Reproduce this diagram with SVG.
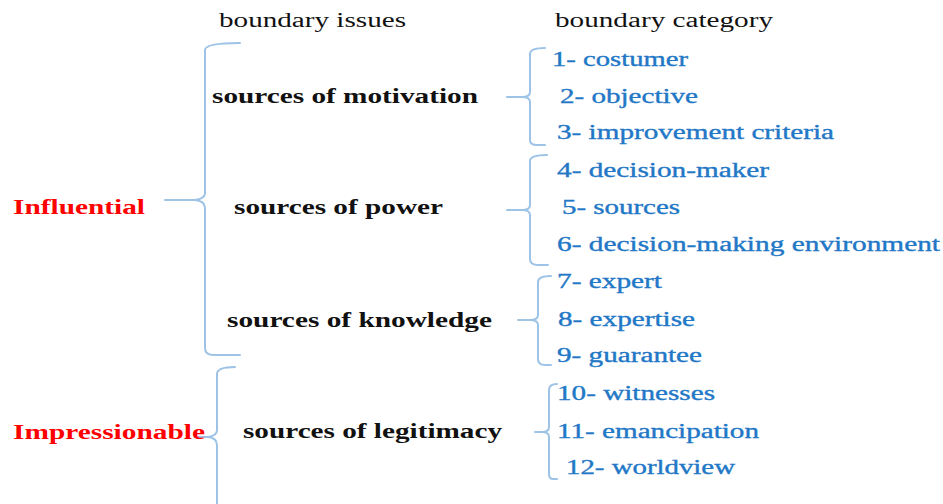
<svg xmlns="http://www.w3.org/2000/svg" width="943" height="504" viewBox="0 0 943 504">
<style>
.hdr{fill:#111}
.top{fill:#ff0000;font-weight:bold}
.issue{fill:#111;font-weight:bold}
.cat{fill:#2277c6;stroke:#2277c6;stroke-width:0.35}
.br{fill:none;stroke:#9dc3e6;stroke-width:2;stroke-linecap:round;stroke-linejoin:round}
</style>
<rect width="943" height="504" fill="#fff"/>
<g id="connectors">
<path class="br" d="M240,43 Q205,43 205,50 L205,193 Q205,199 195,200 L165,200 M195,200 Q205,201 205,208 L205,348 Q205,355 214,355 L240,355"/>
<path class="br" d="M235,367 Q217,367 217,374 L217,430 Q217,436 208,437 L195,437 M208,437 Q217,438 217,445 L217,504"/>
<path class="br" d="M545,48 Q530,48 530,54 L530,92 Q530,97 522,97 L507,97 M522,97 Q530,97 530,102 L530,140 Q530,145 537,145 L545,145"/>
<path class="br" d="M547,155 Q530,155 530,161 L530,205 Q530,210 522,210 L507,210 M522,210 Q530,210 530,215 L530,259 Q530,265 538,265 L548,265"/>
<path class="br" d="M551,276 Q538,276 538,282 L538,315 Q538,320 530,320 L518,320 M530,320 Q538,320 538,325 L538,359 Q538,365 545,365 L551,365"/>
<path class="br" d="M557,384 Q549,384 549,390 L549,427 Q549,432 542,432 L535,432 M542,432 Q549,432 549,437 L549,474 Q549,479 553,479 L557,479"/>
</g>
<g font-family="Liberation Serif, DejaVu Serif, serif" font-size="20">
<g id="headers">
<text class="hdr" x="219" y="27" textLength="187" lengthAdjust="spacingAndGlyphs">boundary issues</text>
<text class="hdr" x="555" y="27" textLength="218" lengthAdjust="spacingAndGlyphs">boundary category</text>
</g>
<g id="influential"><text class="top" x="13" y="214" textLength="132" lengthAdjust="spacingAndGlyphs">Influential</text></g>
<g id="impressionable"><text class="top" x="13" y="439" textLength="192" lengthAdjust="spacingAndGlyphs">Impressionable</text></g>
<g id="motivation"><text class="issue" x="212" y="103" textLength="266" lengthAdjust="spacingAndGlyphs">sources of motivation</text></g>
<g id="power"><text class="issue" x="234" y="214" textLength="209" lengthAdjust="spacingAndGlyphs">sources of power</text></g>
<g id="knowledge"><text class="issue" x="227" y="327" textLength="265" lengthAdjust="spacingAndGlyphs">sources of knowledge</text></g>
<g id="legitimacy"><text class="issue" x="243" y="438" textLength="259" lengthAdjust="spacingAndGlyphs">sources of legitimacy</text></g>
<g id="c1"><text class="cat" x="552" y="66" textLength="136" lengthAdjust="spacingAndGlyphs">1- costumer</text></g>
<g id="c2"><text class="cat" x="560" y="103" textLength="138" lengthAdjust="spacingAndGlyphs">2- objective</text></g>
<g id="c3"><text class="cat" x="557" y="139" textLength="277" lengthAdjust="spacingAndGlyphs">3- improvement criteria</text></g>
<g id="c4"><text class="cat" x="557" y="177" textLength="212" lengthAdjust="spacingAndGlyphs">4- decision-maker</text></g>
<g id="c5"><text class="cat" x="562" y="214" textLength="118" lengthAdjust="spacingAndGlyphs">5- sources</text></g>
<g id="c6"><text class="cat" x="557" y="251" textLength="383" lengthAdjust="spacingAndGlyphs">6- decision-making environment</text></g>
<g id="c7"><text class="cat" x="557" y="288" textLength="105" lengthAdjust="spacingAndGlyphs">7- expert</text></g>
<g id="c8"><text class="cat" x="558" y="326" textLength="137" lengthAdjust="spacingAndGlyphs">8- expertise</text></g>
<g id="c9"><text class="cat" x="557" y="362" textLength="145" lengthAdjust="spacingAndGlyphs">9- guarantee</text></g>
<g id="c10"><text class="cat" x="557" y="400" textLength="158" lengthAdjust="spacingAndGlyphs">10- witnesses</text></g>
<g id="c11"><text class="cat" x="557" y="438" textLength="202" lengthAdjust="spacingAndGlyphs">11- emancipation</text></g>
<g id="c12"><text class="cat" x="566" y="474" textLength="169" lengthAdjust="spacingAndGlyphs">12- worldview</text></g>
</g>
</svg>
